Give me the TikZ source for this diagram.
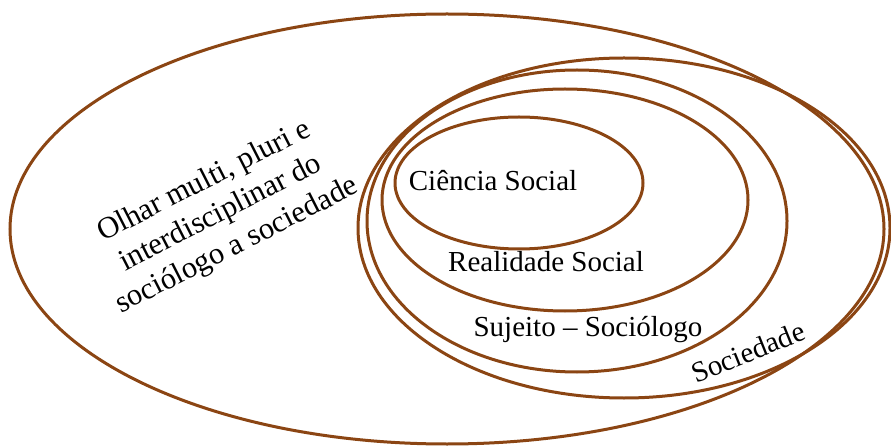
\documentclass[tikz,border=0pt]{standalone}
\usepackage{fontspec}
\setmainfont{Liberation Serif}
\usetikzlibrary{shapes.geometric}
\definecolor{rim}{RGB}{139,69,19}
\tikzset{
    ring/.style =   {ellipse,
                    draw=rim,
                    fill=none,
                    line width=3pt,
                    inner sep=0pt},
    tag/.style =    {text=black,
                    inner sep=0pt,
                    align=center,
                    font=\fontsize{29}{33}\selectfont},
    bigtag/.style = {tag,
                    font=\fontsize{30.5}{36}\selectfont}}

\begin{document}
\begin{tikzpicture}[x=1pt,y=-1pt]
                \useasboundingbox (0,0) rectangle (891,446);
                \node[ring, minimum width=874pt, minimum height=430pt]  (olhar)    at (447,229) {};
                \node[ring, minimum width=532pt, minimum height=340pt]  (soc)      at (624,228) {};
                \node[ring, minimum width=420pt, minimum height=302pt]  (sujeito)  at (577,221) {};
                \node[ring, minimum width=366pt, minimum height=222pt]  (real)     at (565,200) {};
                \node[ring, minimum width=248pt, minimum height=132pt]  (ciencia)  at (519,183) {};
                % texts
                \node[tag]              (tciencia)  at (493,181)   {Ciência Social};
                \node[tag]              (treal)     at (546,262)   {Realidade Social};
                \node[tag]              (tsujeito)  at (588,330)   {Sujeito – Sociólogo};
                \node[tag, rotate=22]   (tsoc)      at (748,352)   {Sociedade};
                \node[bigtag, rotate=27] (tolhar)   at (221,214)   {Olhar multi, pluri e\\interdisciplinar do\\sociólogo a sociedade};
        \end{tikzpicture}
\end{document}
